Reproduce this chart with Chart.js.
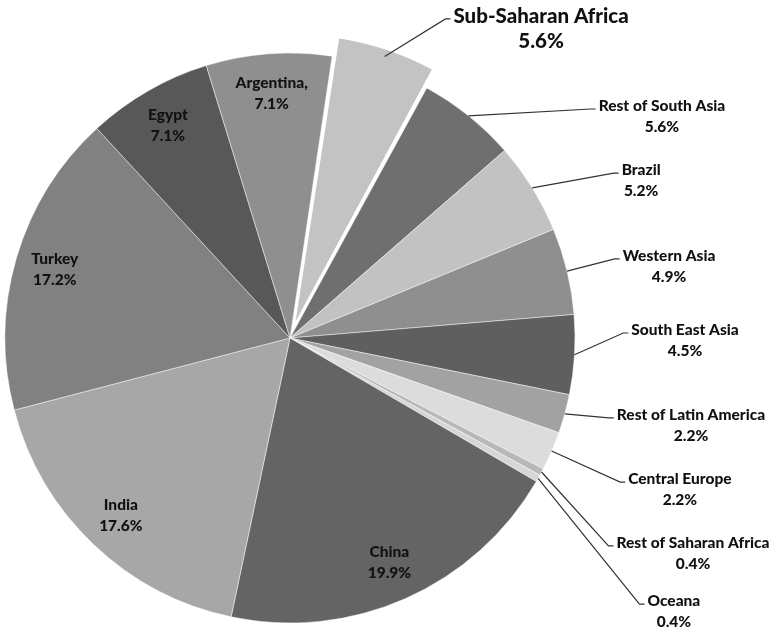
<!DOCTYPE html>
<html>
<head>
<meta charset="utf-8">
<script src="https://cdn.jsdelivr.net/npm/chart.js@4.4.1/dist/chart.umd.min.js"></script>
<style>
  html, body { margin: 0; padding: 0; background: #fff; }
  #wrap { width: 776px; height: 634px; position: relative; }
</style>
</head>
<body>
<div id="wrap"><canvas id="myChart" width="776" height="634"></canvas></div>
<script>
// slices, clockwise from the exploded one
var regions = ['Sub-Saharan Africa', 'Rest of South Asia', 'Brazil', 'Western Asia', 'South East Asia',
               'Rest of Latin America', 'Central Europe', 'Rest of Saharan Africa', 'Oceana',
               'China', 'India', 'Turkey', 'Egypt', 'Argentina,'];
var shares = [5.6, 5.6, 5.2, 4.9, 4.5, 2.2, 2.2, 0.4, 0.4, 19.9, 17.6, 17.2, 7.1, 7.1];
var grays = ['#c3c3c3', '#6f6f6f', '#c2c2c2', '#8f8f8f', '#5f5f5f', '#a2a2a2', '#dcdcdc',
             '#b8b8b8', '#d6d6d6', '#646464', '#a7a7a7', '#818181', '#585858', '#8f8f8f'];

// label placement for outside labels, in pie radii from the centre (null = inside the slice)
var outsideLabels = [
    [0.881, -1.130], [1.305, -0.814], [1.232, -0.589], [1.330, -0.288], [1.386, -0.028],
    [1.407, 0.270], [1.368, 0.495], [1.414, 0.719], [1.347, 0.923],
    null, null, null, null, null
];

var labelPlugin = {
    id: 'sliceLabels',
    afterDatasetsDraw: function (chart) {
        var ctx = chart.ctx;
        var meta = chart.getDatasetMeta(0);
        ctx.save();
        ctx.textAlign = 'center';
        ctx.textBaseline = 'middle';
        meta.data.forEach(function (arc, i) {
            var p = arc.getProps(['x', 'y', 'startAngle', 'endAngle', 'outerRadius']);
            var mid = (p.startAngle + p.endAngle) / 2;
            var R = p.outerRadius;
            var pct = shares[i].toFixed(1) + '%';
            var big = i === 0;
            var size = big ? 20.5 : 15.5;
            var gap = big ? 25 : 21;
            ctx.font = '900 ' + size + 'px Lato, "Open Sans", sans-serif';
            ctx.fillStyle = '#111';
            var pos = outsideLabels[i];
            if (!pos) {
                var r = R * 0.86;
                var lx = p.x + Math.cos(mid) * r;
                var ly = p.y + Math.sin(mid) * r;
                ctx.fillText(regions[i], lx, ly - gap / 2);
                ctx.fillText(pct, lx, ly + gap / 2);
                return;
            }
            var tx = p.x + pos[0] * R;
            var ty = p.y + pos[1] * R;
            ctx.fillText(regions[i], tx, ty);
            ctx.fillText(pct, tx, ty + gap);
            // leader line from the slice edge to the left of the label
            var shift = (arc.options.offset || 0) / 4;
            var sx = p.x + Math.cos(mid) * (R + shift);
            var sy = p.y + Math.sin(mid) * (R + shift);
            var left = tx - ctx.measureText(regions[i]).width / 2 - 3;
            var ey = ty + 3;
            ctx.strokeStyle = '#333';
            ctx.lineWidth = 1.2;
            ctx.beginPath();
            ctx.moveTo(sx, sy);
            ctx.lineTo(left - 5, ey);
            ctx.lineTo(left, ey);
            ctx.stroke();
        });
        ctx.restore();
    }
};

var chart = new Chart(document.getElementById('myChart').getContext('2d'), {
    type: 'pie',
    data: {
        labels: regions,
        datasets: [{
            data: shares,
            backgroundColor: grays,
            borderColor: regions.map(function (r, i) { return i === 0 ? '#ffffff' : 'rgba(255,255,255,0.45)'; }),
            borderWidth: regions.map(function (r, i) { return i === 0 ? 2 : 1; }),
            offset: regions.map(function (r, i) { return i === 0 ? 48 : 0; })
        }]
    },
    options: {
        responsive: false,
        animation: false,
        rotation: 8.5,
        radius: 285,
        layout: { padding: { left: 0, right: 196, top: 42, bottom: 0 } },
        plugins: {
            legend: { display: false },
            tooltip: { enabled: false }
        }
    },
    plugins: [labelPlugin]
});
</script>
</body>
</html>
